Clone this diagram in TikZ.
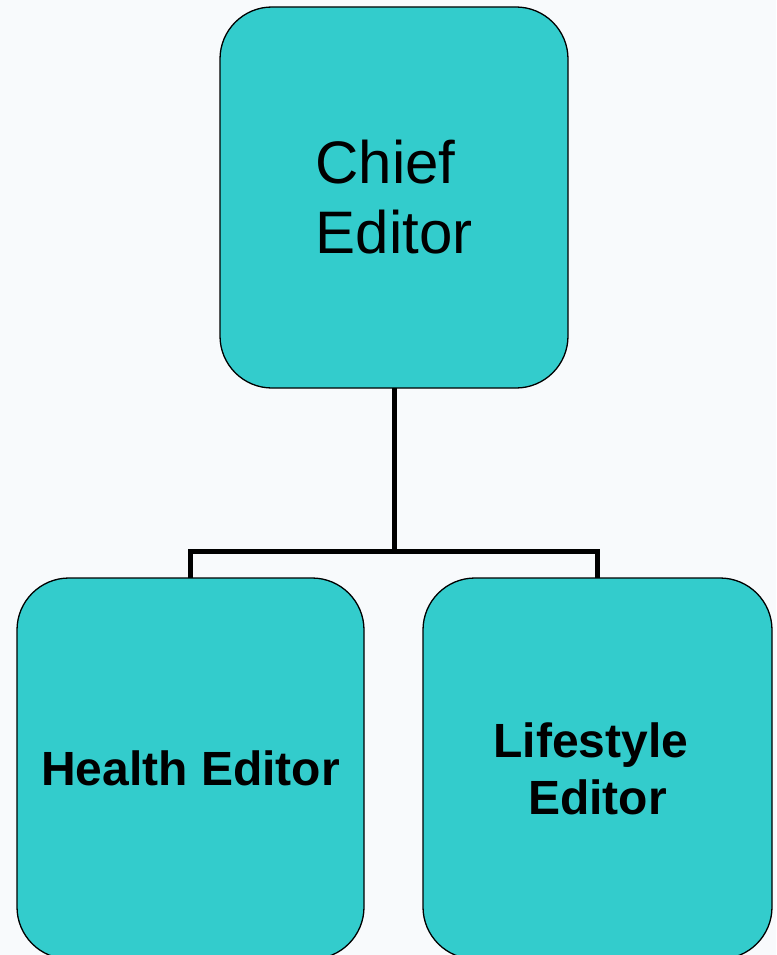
\documentclass[tikz,border=0pt]{standalone}
\usepackage{fontspec}
\setmainfont{Liberation Sans}
\begin{document}
\begin{tikzpicture}[x=1pt,y=-1pt,
  every node/.style={inner sep=0pt, outer sep=0pt},
  orgbox/.style={draw=black, line width=1.3pt, fill=boxteal,
    rounded corners=52pt, minimum height=381pt, align=center, text=black},
  chieftext/.style={font=\fontsize{60}{70}\selectfont},
  subtext/.style={font=\fontsize{48}{57}\selectfont\bfseries},
  conn/.style={draw=black, line width=5pt, line join=miter}]
\definecolor{boxteal}{HTML}{33CCCC}
\definecolor{pagebg}{HTML}{F8FAFC}
% page background and crop
\fill[pagebg] (0,0) rectangle (776,955);
\clip (0,0) rectangle (776,955);
% boxes
\node[orgbox, chieftext, minimum width=348pt] (chief) at (394,197.5)
  {\mbox{Chief\ }\\Editor};
\node[orgbox, subtext, minimum width=347pt] (health) at (190.5,768.5)
  {Health Editor};
\node[orgbox, subtext, minimum width=349pt] (life) at (597.5,768.5)
  {\mbox{Lifestyle\ }\\Editor};
% connectors
\coordinate (bus) at (394,551);
\draw[conn] (chief.south) -- (bus);
\draw[conn] (health.north) |- (bus) -| (life.north);
\end{tikzpicture}
\end{document}
